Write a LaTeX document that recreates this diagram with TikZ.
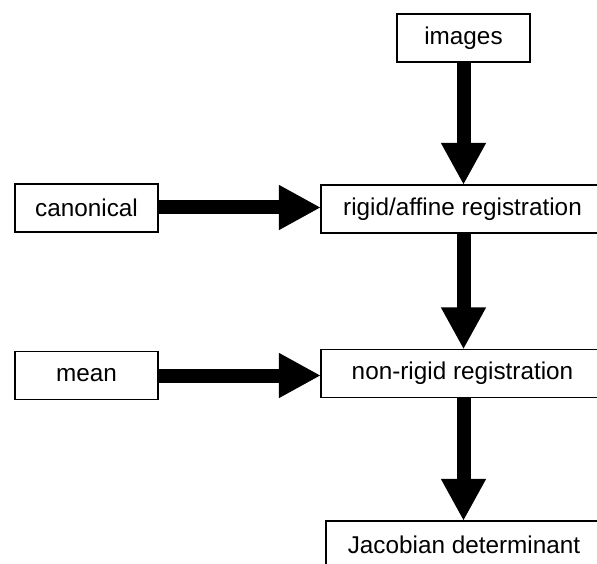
\documentclass[tikz,border=0pt]{standalone}
\usepackage{fontspec}
\setmainfont{Liberation Sans}
\usetikzlibrary{arrows.meta}
\begin{document}
\begin{tikzpicture}[x=1pt,y=-1pt,
  box/.style={draw=black,line width=1.2pt,fill=white,inner sep=0pt,
    font=\fontsize{24.3}{28}\selectfont,minimum height=48pt,anchor=center},
  bigarrow/.style={line width=14pt,-{Triangle[length=42pt,width=42pt]},shorten >=-0.5pt}]
\useasboundingbox (0,0) rectangle (597,564);
\node[box,minimum width=133pt] (images) at (463.5,38) {images};
\node[box,minimum width=143pt] (canonical) at (86.5,208) {canonical};
\node[box,minimum width=283pt] (rigid) at (462.5,209) {rigid/affine registration};
\node[box,minimum width=143pt] (mean) at (86.5,375.5) {mean};
\node[box,minimum width=283pt] (nonrigid) at (462.5,373.5) {non-rigid registration};
\node[box,minimum width=276pt] (jacobian) at (464,545) {Jacobian determinant};
\draw[bigarrow] (images.south) -- (images.south |- rigid.north);
\draw[bigarrow] ([xshift=1pt]rigid.south) -- ([xshift=1pt]rigid.south |- nonrigid.north);
\draw[bigarrow] ([xshift=1pt]nonrigid.south) -- ([xshift=1pt]nonrigid.south |- jacobian.north);
\draw[bigarrow] ([yshift=0.5pt]canonical.east) -- ([yshift=0.5pt]canonical.east -| rigid.west);
\draw[bigarrow] (mean.east) -- (mean.east -| nonrigid.west);
\end{tikzpicture}
\end{document}
